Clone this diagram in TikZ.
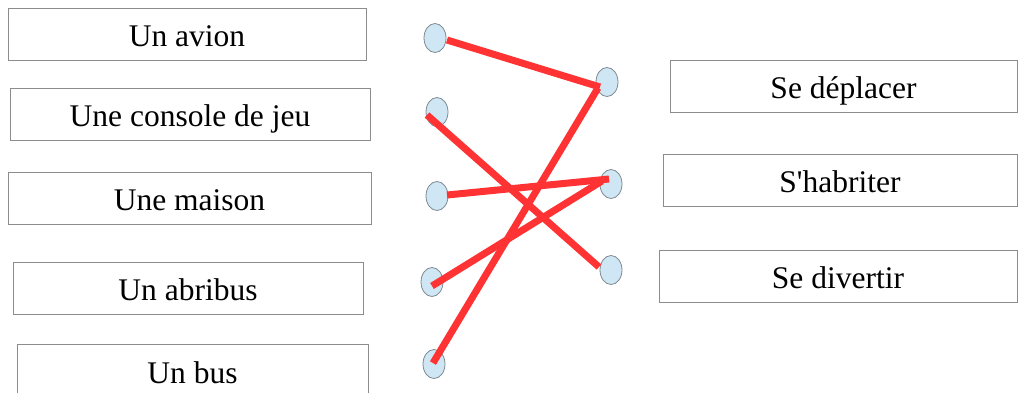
\documentclass[tikz,border=0pt]{standalone}
\usepackage{fontspec}
\setmainfont{Liberation Serif}[Ligatures=TeXOff]
\usetikzlibrary{calc,shapes.geometric}
\definecolor{boxgray}{HTML}{8C8C8C}
\definecolor{dotfill}{HTML}{CFE6F4}
\definecolor{dotline}{HTML}{7F8A92}
\definecolor{linkred}{HTML}{FF3333}
\begin{document}
\begin{tikzpicture}[x=1pt,y=-1pt,
  wordbox/.style={draw=boxgray,line width=1pt,fill=white,inner sep=0pt,text height=24pt,text depth=0pt,font=\fontsize{31.5}{36}\selectfont},
  dot/.style={ellipse,draw=dotline,line width=0.8pt,fill=dotfill,minimum width=22pt,minimum height=29pt,inner sep=0pt},
  link/.style={draw=linkred,line width=7pt}]
\useasboundingbox (0,0) rectangle (1018,392);
\clip (0,0) rectangle (1018,392);
\fill[white] (0,0) rectangle (1018,392);
% left boxes
\node[wordbox,minimum width=358pt,minimum height=52pt] (b1) at (187,34) {Un avion};
\node[wordbox,minimum width=360pt,minimum height=52pt] (b2) at (190,114) {Une console de jeu};
\node[wordbox,minimum width=363pt,minimum height=52pt] (b3) at (189.5,198) {Une maison};
\node[wordbox,minimum width=350pt,minimum height=52pt] (b4) at (188,288) {Un abribus};
\node[wordbox,minimum width=351pt,minimum height=54pt] (b5) at (192.5,371) {Un bus};
% right boxes
\node[wordbox,minimum width=347pt,minimum height=52pt] (v1) at (843.5,86) {Se déplacer};
\node[wordbox,minimum width=354pt,minimum height=52pt] (v2) at (840,180) {S'habriter};
\node[wordbox,minimum width=358pt,minimum height=52pt] (v3) at (838,276) {Se divertir};
% dots
\node[dot] (c1) at (435,38) {};
\node[dot] (c2) at (437,112) {};
\node[dot] (c3) at (437,196) {};
\node[dot] (c4) at (432,282) {};
\node[dot] (c5) at (434,364) {};
\node[dot] (r1) at (607,82) {};
\node[dot] (r2) at (611,184) {};
\node[dot] (r3) at (611,270) {};
% links
\draw[link] ($(c1)+(12,2)$) -- ($(r1)+(-7,5)$);
\draw[link] ($(c2)+(-10,3)$) -- ($(r3)+(-12,-3)$);
\draw[link] ($(c3)+(10,-1)$) -- ($(r2)+(-2,-5)$);
\draw[link] ($(c4)+(0,4)$) -- ($(r2)+(-9,-3)$);
\draw[link] ($(c5)+(-1,-1)$) -- ($(r1)+(-9,6)$);
\end{tikzpicture}
\end{document}
